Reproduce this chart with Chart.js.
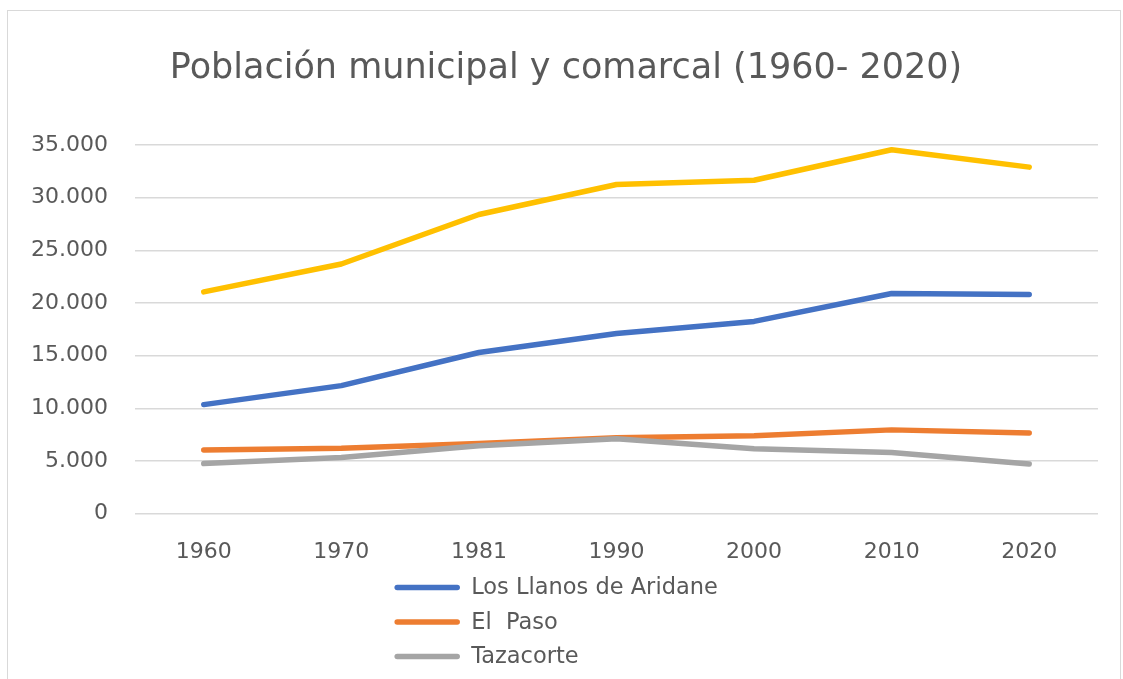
<!DOCTYPE html>
<html lang="es">
  <head>
    <meta charset="UTF-8" />
    <title>Población municipal y comarcal</title>
    <style>
      body {
        margin: 0;
        background: #fff;
        font-family: "DejaVu Sans", sans-serif;
      }
      .wrap {
        position: relative;
        width: 1123px;
        height: 679px;
        overflow: hidden;
      }
      .frame {
        position: absolute;
        left: 7px;
        top: 10px;
        width: 1112px;
        height: 700px;
        border: 1px solid #d9d9d9;
        pointer-events: none;
      }
    </style>
    <script src="https://cdn.jsdelivr.net/npm/chart.js"></script>
  </head>
  <body>
    <div class="wrap">
      <canvas id="popChart" width="1123" height="679"></canvas>
      <div class="frame"></div>
    </div>
    <script>
      const years = ["1960", "1970", "1981", "1990", "2000", "2010", "2020"];
      const comarca = [21050, 23700, 28400, 31250, 31650, 34550, 32900];
      const losLlanos = [10350, 12150, 15300, 17100, 18250, 20900, 20800];
      const elPaso = [6050, 6200, 6650, 7200, 7400, 7950, 7650];
      const tazacorte = [4750, 5320, 6450, 7100, 6150, 5800, 4700];

      const titleText = "Población municipal y comarcal (1960- 2020)";
      const textColor = "#595959";

      // thousands with a dot, like the original
      function fmt(v) {
        return String(v).replace(/\B(?=(\d{3})+(?!\d))/g, ".");
      }

      // title a bit right of centre, and vertical legend under the x axis
      const extras = {
        id: "extras",
        afterDraw(chart) {
          const ctx = chart.ctx;
          ctx.save();
          ctx.fillStyle = textColor;
          ctx.textAlign = "center";
          ctx.textBaseline = "middle";
          ctx.font = "35px 'DejaVu Sans'";
          ctx.fillText(titleText, 566, 69);

          const items = chart.data.datasets.filter((d) => !d.noLegend);
          ctx.textAlign = "left";
          ctx.font = "22.5px 'DejaVu Sans'";
          let maxText = 0;
          items.forEach((d) => (maxText = Math.max(maxText, ctx.measureText(d.label).width)));
          const total = 77 + maxText;
          const x0 = 556 - total / 2;
          items.forEach((d, i) => {
            const y = chart.chartArea.bottom + 74 + i * 34.5;
            ctx.strokeStyle = d.borderColor;
            ctx.lineWidth = 5.5;
            ctx.lineCap = "round";
            ctx.beginPath();
            ctx.moveTo(x0 + 3, y);
            ctx.lineTo(x0 + 63, y);
            ctx.stroke();
            ctx.fillText(d.label, x0 + 77, y + 1);
          });
          ctx.restore();
        },
      };

      function line(label, data, color, order, noLegend) {
        return {
          label: label,
          data: data,
          borderColor: color,
          backgroundColor: color,
          borderWidth: 5.5,
          borderCapStyle: "round",
          borderJoinStyle: "round",
          pointRadius: 0,
          tension: 0,
          order: order,
          noLegend: noLegend,
        };
      }

      const ctx = document.getElementById("popChart").getContext("2d");
      new Chart(ctx, {
        type: "line",
        data: {
          labels: years,
          datasets: [
            line("Los Llanos de Aridane", losLlanos, "#4472C4", 2, false),
            line("El  Paso", elPaso, "#ED7D31", 1, false),
            line("Tazacorte", tazacorte, "#A5A5A5", 0, false),
            line("Comarca", comarca, "#FFC000", 3, true),
          ],
        },
        options: {
          responsive: false,
          animation: false,
          layout: {
            padding: { left: 4, right: 25, top: 145, bottom: 89 },
          },
          scales: {
            x: {
              offset: true,
              grid: { display: false, drawTicks: false },
              border: { display: false },
              ticks: {
                color: textColor,
                padding: 25,
                font: { family: "DejaVu Sans", size: 22 },
              },
            },
            y: {
              min: 0,
              max: 35000,
              grid: { color: "#d9d9d9", lineWidth: 1.5, drawTicks: false },
              border: { display: false },
              ticks: {
                stepSize: 5000,
                color: textColor,
                padding: 27,
                font: { family: "DejaVu Sans", size: 22 },
                callback: (v) => fmt(v),
              },
            },
          },
          plugins: {
            legend: { display: false },
            tooltip: { enabled: false },
            title: { display: false },
          },
        },
        plugins: [extras],
      });
    </script>
  </body>
</html>
